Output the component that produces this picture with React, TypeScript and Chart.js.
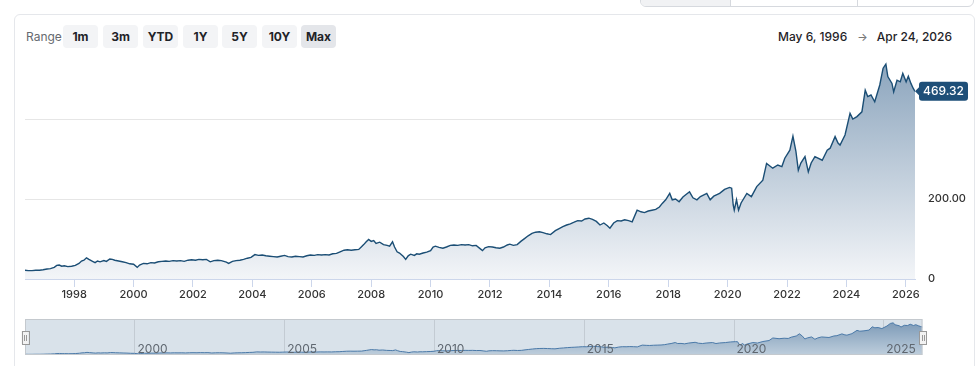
import React, { useEffect, useRef } from "react";
import { Chart, registerables } from "chart.js";

Chart.register(...registerables);

// ---- data ----
const dates: string[] = [
  "1996-05-06","1996-06-15","1996-08-01","1996-09-15","1996-11-01","1996-12-15",
  "1997-02-01","1997-03-15","1997-05-01","1997-06-01","1997-07-01","1997-08-01","1997-09-01","1997-10-15","1997-12-01",
  "1998-01-15","1998-03-01","1998-04-01","1998-05-01","1998-06-01","1998-07-01","1998-08-15","1998-09-15","1998-10-15","1998-11-15",
  "1999-01-01","1999-02-01","1999-03-15","1999-04-15","1999-05-15","1999-07-01","1999-08-15","1999-10-01","1999-11-15",
  "2000-01-01","2000-02-15","2000-03-15","2000-05-01","2000-06-15","2000-08-01","2000-09-15","2000-11-01","2000-12-15",
  "2001-02-01","2001-03-15","2001-05-01","2001-06-15","2001-08-01","2001-09-15","2001-11-01","2001-12-15",
  "2002-02-01","2002-03-15","2002-05-01","2002-06-15","2002-08-01","2002-09-15","2002-11-01","2002-12-15",
  "2003-02-15","2003-03-15","2003-05-01","2003-06-15","2003-08-01","2003-09-15","2003-11-01","2003-12-15",
  "2004-02-01","2004-03-15","2004-05-01","2004-06-15","2004-08-01","2004-09-15","2004-11-01","2004-12-15",
  "2005-02-01","2005-03-15","2005-05-01","2005-06-15","2005-08-01","2005-09-15","2005-11-01","2005-12-15",
  "2006-02-01","2006-03-15","2006-05-01","2006-06-15","2006-08-01","2006-09-15","2006-11-01","2006-12-15",
  "2007-02-01","2007-03-15","2007-05-01","2007-06-15","2007-08-01","2007-09-01","2007-10-01","2007-11-01","2007-12-01",
  "2008-01-01","2008-02-01","2008-03-01","2008-04-15","2008-06-01","2008-07-15","2008-08-15","2008-09-20","2008-10-15","2008-11-15","2008-12-15",
  "2009-02-01","2009-03-01","2009-04-01","2009-05-01","2009-06-15","2009-07-15","2009-08-15","2009-10-01","2009-11-15",
  "2010-01-01","2010-02-01","2010-03-01","2010-04-15","2010-06-01","2010-07-15","2010-09-01","2010-10-15","2010-12-01",
  "2011-01-15","2011-03-01","2011-04-15","2011-06-01","2011-07-15","2011-09-01","2011-10-01","2011-11-01","2011-12-15",
  "2012-02-01","2012-03-15","2012-05-01","2012-06-15","2012-08-01","2012-09-01","2012-10-15","2012-12-01",
  "2013-01-15","2013-03-01","2013-04-15","2013-06-01","2013-07-15","2013-09-01","2013-10-15","2013-12-01",
  "2014-01-15","2014-03-15","2014-05-01","2014-06-15","2014-08-01","2014-09-15","2014-11-01","2014-12-15",
  "2015-02-01","2015-03-15","2015-05-01","2015-06-15","2015-08-01","2015-09-15","2015-11-01","2015-12-15",
  "2016-01-15","2016-03-01","2016-04-15","2016-06-01","2016-07-15","2016-09-01","2016-10-15","2016-12-15",
  "2017-02-01","2017-03-15","2017-05-01","2017-06-15","2017-08-01","2017-09-15","2017-10-20","2017-12-01",
  "2018-01-20","2018-02-20","2018-04-01","2018-05-15","2018-07-01","2018-09-20","2018-11-01","2018-12-20",
  "2019-02-01","2019-04-20","2019-06-01","2019-07-15","2019-09-25","2019-11-25",
  "2020-01-25","2020-02-20","2020-03-10","2020-03-23","2020-04-20","2020-05-15","2020-06-15","2020-08-25","2020-10-20","2020-12-25",
  "2021-03-10","2021-04-25","2021-07-10","2021-09-10","2021-10-30","2021-12-05",
  "2022-02-05","2022-03-15","2022-04-20","2022-05-20","2022-06-20","2022-08-10","2022-09-20","2022-10-25","2022-12-10",
  "2023-03-10","2023-05-10","2023-06-15","2023-08-15","2023-09-20","2023-10-15","2023-12-15",
  "2024-02-15","2024-03-20","2024-05-10","2024-07-10","2024-08-20","2024-09-20","2024-10-30","2024-12-15",
  "2025-02-15","2025-03-28","2025-05-01","2025-05-25","2025-07-15","2025-08-05","2025-09-15","2025-10-25","2025-11-25",
  "2026-01-05","2026-02-01","2026-03-05","2026-04-01","2026-04-24"
];

const closes: number[] = [
  22,21,21,22,22,23,
  25,26,29,34,35,32,33,31,32,
  34,39,45,47,53,49,44,41,45,43,
  46,44,50,49,47,45,43,41,38,
  37,29,35,39,38,41,40,43,44,
  45,44,46,45,46,44,47,48,
  47,49,48,49,43,46,47,46,
  42,39,44,46,47,49,52,54,
  61,59,60,58,57,56,55,57,
  59,56,55,57,56,55,58,60,
  59,61,60,61,60,63,64,68,
  72,73,72,73,74,80,86,93,99,
  94,96,89,92,86,84,82,93,80,68,65,
  56,49,58,62,59,63,62,65,67,
  71,80,82,79,77,80,84,85,84,
  86,85,86,83,84,76,71,78,81,
  80,78,77,80,85,87,84,86,
  94,101,108,114,117,118,116,113,
  111,121,126,131,135,138,142,146,
  145,150,152,149,144,135,140,133,
  127,140,146,145,148,146,143,172,
  168,166,170,172,174,180,189,198,
  214,198,200,193,205,218,203,198,
  206,214,198,207,214,224,
  229,227,185,172,198,172,190,214,206,231,
  247,289,277,285,281,302,
  322,357,320,272,290,306,268,290,306,
  297,322,327,356,340,335,360,
  414,400,406,418,472,456,460,443,
  485,527,537,506,489,468,497,493,514,
  493,507,489,477,469.32
];

const xTickYears: number[] = [1998, 2000, 2002, 2004, 2006, 2008, 2010, 2012, 2014, 2016, 2018, 2020, 2022, 2024, 2026];
const yTickValues: number[] = [0, 200, 400];
const yTickLabels: string[] = ["0", "200.00", ""];
const navTickYears: number[] = [2000, 2005, 2010, 2015, 2020, 2025];
const rangeButtons: string[] = ["1m", "3m", "YTD", "1Y", "5Y", "10Y", "Max"];
const selectedRange = "Max";
const rangeStartLabel = "May 6, 1996";
const rangeEndLabel = "Apr 24, 2026";
const yAxisMax = 560;
const navYMin = 10;
const navYMax = 600;

function toYear(iso: string): number {
  const [y, m, d] = iso.split("-").map(Number);
  const start = Date.UTC(y, 0, 1);
  const end = Date.UTC(y + 1, 0, 1);
  return y + (Date.UTC(y, m - 1, d) - start) / (end - start);
}

const FONT = "Inter, 'Noto Sans', sans-serif";

const flagPlugin = {
  id: "lastFlag",
  afterDatasetsDraw(chart: any) {
    const { ctx, scales, chartArea } = chart;
    const v = closes[closes.length - 1];
    const y = scales.y.getPixelForValue(v);
    const x0 = chartArea.right + 4;
    const w = 49;
    const h = 19;
    ctx.save();
    ctx.fillStyle = "#1e4f78";
    ctx.beginPath();
    ctx.roundRect(x0, y - h / 2, w, h, 3);
    ctx.fill();
    ctx.beginPath();
    ctx.moveTo(x0 + 1, y - 5);
    ctx.lineTo(x0 - 4, y);
    ctx.lineTo(x0 + 1, y + 5);
    ctx.closePath();
    ctx.fill();
    ctx.fillStyle = "#ffffff";
    ctx.font = `500 12px ${FONT}`;
    ctx.textAlign = "center";
    ctx.textBaseline = "middle";
    ctx.fillText(v.toFixed(2), x0 + w / 2, y + 0.5);
    ctx.restore();
  },
};

const navPlugin = {
  id: "navDecor",
  beforeDatasetsDraw(chart: any) {
    const { ctx, chartArea: a, scales } = chart;
    ctx.save();
    ctx.fillStyle = "#d9e2ea";
    ctx.fillRect(a.left, a.top, a.right - a.left, a.bottom - a.top);
    ctx.strokeStyle = "#c3cbd3";
    ctx.lineWidth = 1;
    navTickYears.forEach((yr) => {
      const x = Math.round(scales.x.getPixelForValue(yr)) + 0.5;
      ctx.beginPath();
      ctx.moveTo(x, a.top);
      ctx.lineTo(x, a.bottom);
      ctx.stroke();
    });
    ctx.restore();
  },
  afterDatasetsDraw(chart: any) {
    const { ctx, chartArea: a, scales } = chart;
    ctx.save();
    ctx.fillStyle = "#5f6770";
    ctx.font = `12px ${FONT}`;
    ctx.textAlign = "left";
    ctx.textBaseline = "alphabetic";
    navTickYears.forEach((yr) => {
      const x = scales.x.getPixelForValue(yr);
      ctx.fillText(String(yr), x + 3, a.bottom - 2);
    });
    ctx.strokeStyle = "#c4c9ce";
    ctx.lineWidth = 1;
    ctx.strokeRect(a.left + 0.5, a.top + 0.5, a.right - a.left - 1, a.bottom - a.top - 1);
    const handle = (cx: number) => {
      const top = a.top + 12;
      const hh = 13;
      const hw = 7;
      ctx.fillStyle = "#f2f2f2";
      ctx.fillRect(cx - hw / 2, top, hw, hh);
      ctx.strokeStyle = "#999999";
      ctx.strokeRect(Math.round(cx - hw / 2) + 0.5, top + 0.5, hw, hh);
      ctx.beginPath();
      ctx.moveTo(Math.round(cx) - 1 + 0.5, top + 4);
      ctx.lineTo(Math.round(cx) - 1 + 0.5, top + hh - 3);
      ctx.moveTo(Math.round(cx) + 1 + 0.5, top + 4);
      ctx.lineTo(Math.round(cx) + 1 + 0.5, top + hh - 3);
      ctx.stroke();
    };
    handle(a.left);
    handle(a.right);
    ctx.restore();
  },
};

export default function App() {
  const mainRef = useRef<HTMLCanvasElement | null>(null);
  const navRef = useRef<HTMLCanvasElement | null>(null);

  useEffect(() => {
    const points = dates.map((d, i) => ({ x: toYear(d), y: closes[i] }));
    const xMin = toYear(dates[0]);
    const xMax = toYear(dates[dates.length - 1]);

    const main = new Chart(mainRef.current as HTMLCanvasElement, {
      type: "line",
      data: {
        datasets: [
          {
            data: points,
            borderColor: "#1b4e75",
            borderWidth: 1.4,
            pointRadius: 0,
            tension: 0,
            fill: "origin",
            backgroundColor: (c: any) => {
              const area = c.chart.chartArea;
              if (!area) return "rgba(0,0,0,0)";
              const g = c.chart.ctx.createLinearGradient(0, area.top, 0, area.bottom);
              g.addColorStop(0, "rgb(136,162,187)");
              g.addColorStop(1, "rgb(243,245,248)");
              return g;
            },
          },
        ],
      },
      options: {
        animation: false,
        responsive: false,
        events: [],
        layout: { padding: { left: 25, top: 55, right: 0, bottom: 0 } },
        plugins: { legend: { display: false }, tooltip: { enabled: false } },
        scales: {
          x: {
            type: "linear",
            min: xMin,
            max: xMax,
            afterBuildTicks: (axis: any) => {
              axis.ticks = xTickYears.map((v) => ({ value: v }));
            },
            afterFit: (s: any) => {
              s.height = 31;
            },
            grid: { drawOnChartArea: false, drawTicks: true, tickLength: 8, color: "#ccd6eb" },
            border: { display: true, color: "#ccd6eb", width: 1 },
            ticks: {
              autoSkip: false,
              maxRotation: 0,
              padding: 1,
              color: "#333333",
              font: { family: FONT, size: 11, weight: 500 },
              callback: (v: any) => String(v),
            },
          },
          y: {
            position: "right",
            min: 0,
            max: yAxisMax,
            afterBuildTicks: (axis: any) => {
              axis.ticks = yTickValues.map((v) => ({ value: v }));
            },
            afterFit: (s: any) => {
              s.width = 65;
            },
            grid: {
              drawTicks: false,
              tickLength: 0,
              color: (c: any) => (c.tick && c.tick.value === 0 ? "rgba(0,0,0,0)" : "#e6e6e6"),
            },
            border: { display: false },
            ticks: {
              padding: 13,
              color: "#333333",
              font: { family: FONT, size: 11, weight: 500 },
              callback: (v: any) => {
                const i = yTickValues.indexOf(Number(v));
                return i >= 0 ? yTickLabels[i] : "";
              },
            },
          },
        },
      },
      plugins: [flagPlugin],
    } as any);

    const nav = new Chart(navRef.current as HTMLCanvasElement, {
      type: "line",
      data: {
        datasets: [
          {
            data: points,
            borderColor: "#4a79a8",
            borderWidth: 1,
            pointRadius: 0,
            tension: 0,
            fill: "origin",
            backgroundColor: (c: any) => {
              const area = c.chart.chartArea;
              if (!area) return "rgba(0,0,0,0)";
              const g = c.chart.ctx.createLinearGradient(0, area.top, 0, area.bottom);
              g.addColorStop(0, "rgb(118,149,180)");
              g.addColorStop(1, "rgb(190,206,220)");
              return g;
            },
          },
        ],
      },
      options: {
        animation: false,
        responsive: false,
        events: [],
        layout: { padding: { left: 25, right: 57.5, top: 9, bottom: 11 } },
        plugins: { legend: { display: false }, tooltip: { enabled: false } },
        scales: {
          x: { type: "linear", display: false, min: xMin, max: xMax },
          y: { display: false, min: navYMin, max: navYMax },
        },
      },
      plugins: [navPlugin],
    } as any);

    return () => {
      main.destroy();
      nav.destroy();
    };
  }, []);

  const btnLeft = [63, 103, 143, 183, 222, 262, 301];

  return (
    <div
      style={{
        position: "fixed",
        left: 0,
        top: 0,
        width: 980,
        height: 366,
        overflow: "hidden",
        background: "#ffffff",
        fontFamily: FONT,
      }}
    >
      {/* top-right tab strip (cut off) */}
      <div
        style={{
          position: "absolute",
          left: 640,
          top: -10,
          width: 334,
          height: 17,
          border: "1px solid #d6d9de",
          borderRadius: "0 0 6px 6px",
          overflow: "hidden",
          display: "flex",
          boxSizing: "border-box",
        }}
      >
        <div style={{ width: 89, background: "#f1f2f4", borderRight: "1px solid #d6d9de" }} />
        <div style={{ width: 126, borderRight: "1px solid #d6d9de" }} />
        <div style={{ flex: 1 }} />
      </div>

      {/* card */}
      <div
        style={{
          position: "absolute",
          left: 14,
          top: 14,
          width: 961,
          height: 400,
          border: "1px solid #e5e7eb",
          borderRadius: 6,
          boxSizing: "border-box",
        }}
      />

      {/* range selector */}
      <div
        style={{
          position: "absolute",
          left: 26,
          top: 29,
          fontSize: 12,
          lineHeight: "16px",
          color: "#666a70",
        }}
      >
        Range
      </div>
      {rangeButtons.map((b, i) => (
        <div
          key={b}
          style={{
            position: "absolute",
            left: btnLeft[i],
            top: 25,
            width: 35,
            height: 23,
            borderRadius: 4,
            background: b === selectedRange ? "#e4e6ea" : "#f3f4f6",
            color: "#1f2328",
            fontSize: 12,
            fontWeight: 700,
            lineHeight: "23px",
            textAlign: "center",
          }}
        >
          {b}
        </div>
      ))}

      {/* date range */}
      <div
        style={{
          position: "absolute",
          right: 28,
          top: 29,
          display: "flex",
          alignItems: "center",
          fontSize: 12,
          fontWeight: 500,
          lineHeight: "16px",
          color: "#1f2328",
          whiteSpace: "nowrap",
        }}
      >
        <span>{rangeStartLabel}</span>
        <span style={{ color: "#777", margin: "0 9px 0 10px", fontSize: 11 }}>→</span>
        <span>{rangeEndLabel}</span>
      </div>

      {/* main chart */}
      <canvas
        ref={mainRef}
        width={980}
        height={310}
        style={{ position: "absolute", left: 0, top: 0, width: 980, height: 310 }}
      />

      {/* navigator */}
      <canvas
        ref={navRef}
        width={980}
        height={56}
        style={{ position: "absolute", left: 0, top: 310, width: 980, height: 56 }}
      />
    </div>
  );
}
